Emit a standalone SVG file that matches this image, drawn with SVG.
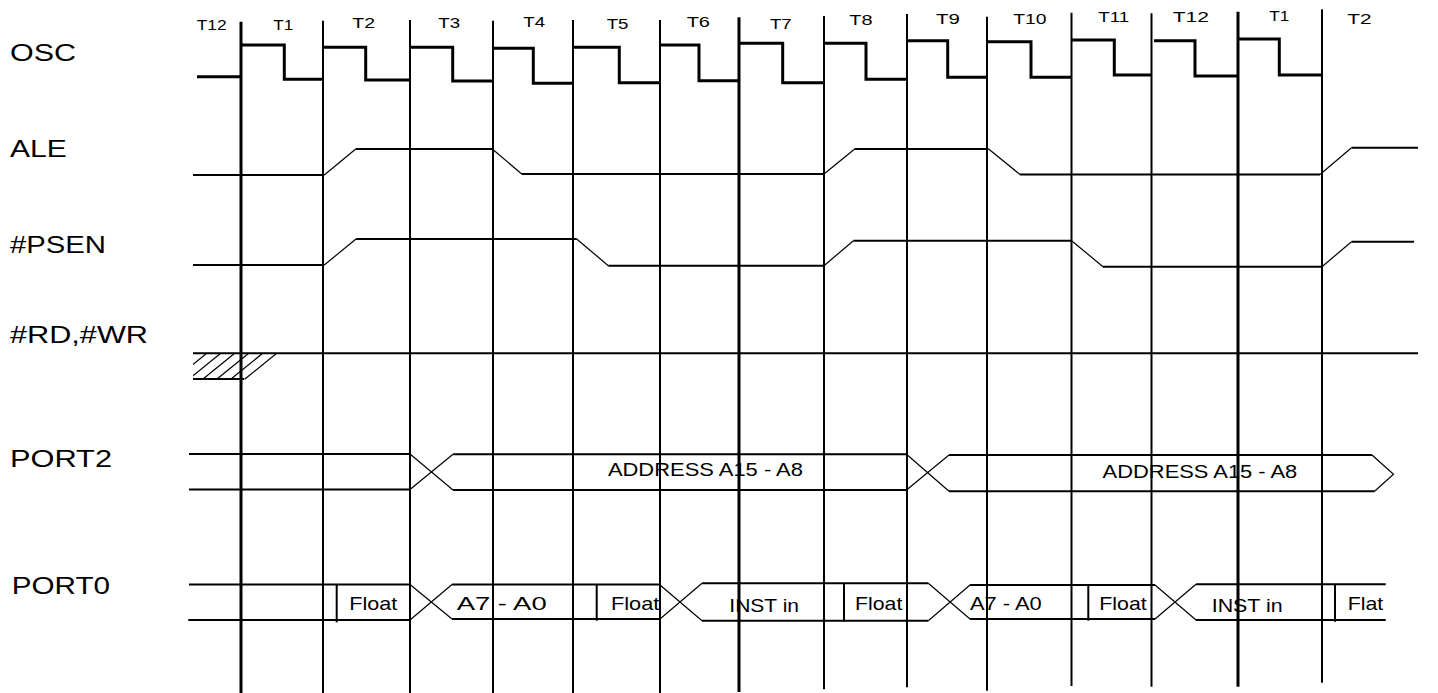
<svg xmlns="http://www.w3.org/2000/svg" width="1438" height="693" viewBox="0 0 1438 693">
<defs>
<style>
.lbl{font-family:"Liberation Sans",Arial,sans-serif;font-size:24.5px;fill:#000}
.tl{font-family:"Liberation Sans",Arial,sans-serif;font-size:15px;fill:#000}
.in{font-family:"Liberation Sans",Arial,sans-serif;font-size:19px;fill:#000}
.g{stroke:#000;stroke-width:2;fill:none}
.gt{stroke:#000;stroke-width:3;fill:none}
.osc{stroke:#000;stroke-width:3;fill:none}
.sig{stroke:#000;stroke-width:2;fill:none}
.thin{stroke:#000;stroke-width:1.2;fill:none}
</style>
<clipPath id="hc"><rect x="193" y="352" width="100" height="28"/></clipPath>
</defs>
<rect width="1438" height="693" fill="#fff"/>

<g id="labels">
<text class="lbl" x="10" y="60.7" textLength="66" lengthAdjust="spacingAndGlyphs">OSC</text>
<text class="lbl" x="10" y="156.7" textLength="56.7" lengthAdjust="spacingAndGlyphs">ALE</text>
<text class="lbl" x="10" y="253.3" textLength="96" lengthAdjust="spacingAndGlyphs">#PSEN</text>
<text class="lbl" x="10" y="343.3" textLength="138" lengthAdjust="spacingAndGlyphs">#RD,#WR</text>
<text class="lbl" x="10" y="466.7" textLength="102" lengthAdjust="spacingAndGlyphs">PORT2</text>
<text class="lbl" x="11.7" y="594" textLength="98.3" lengthAdjust="spacingAndGlyphs">PORT0</text>
</g>

<g id="states">
<text class="tl" x="196.7" y="30" textLength="30" lengthAdjust="spacingAndGlyphs">T12</text>
<text class="tl" x="273.3" y="29.5" textLength="20" lengthAdjust="spacingAndGlyphs">T1</text>
<text class="tl" x="352.3" y="28.3" textLength="22.7" lengthAdjust="spacingAndGlyphs">T2</text>
<text class="tl" x="438.3" y="28.3" textLength="21.7" lengthAdjust="spacingAndGlyphs">T3</text>
<text class="tl" x="523.3" y="27.3" textLength="21.7" lengthAdjust="spacingAndGlyphs">T4</text>
<text class="tl" x="606.7" y="29" textLength="21.7" lengthAdjust="spacingAndGlyphs">T5</text>
<text class="tl" x="686.7" y="26.7" textLength="23.3" lengthAdjust="spacingAndGlyphs">T6</text>
<text class="tl" x="770" y="29" textLength="21.7" lengthAdjust="spacingAndGlyphs">T7</text>
<text class="tl" x="849.3" y="25" textLength="23.3" lengthAdjust="spacingAndGlyphs">T8</text>
<text class="tl" x="936" y="24" textLength="24" lengthAdjust="spacingAndGlyphs">T9</text>
<text class="tl" x="1013.3" y="24" textLength="33.3" lengthAdjust="spacingAndGlyphs">T10</text>
<text class="tl" x="1098.3" y="21.7" textLength="31" lengthAdjust="spacingAndGlyphs">T11</text>
<text class="tl" x="1172.7" y="22.3" textLength="36.3" lengthAdjust="spacingAndGlyphs">T12</text>
<text class="tl" x="1269.3" y="20.7" textLength="20" lengthAdjust="spacingAndGlyphs">T1</text>
<text class="tl" x="1347.3" y="24" textLength="24.3" lengthAdjust="spacingAndGlyphs">T2</text>
</g>

<g id="grid">
<line class="gt" x1="241" y1="21.7" x2="241" y2="693"/>
<line class="g" x1="323" y1="20.7" x2="323" y2="693"/>
<line class="g" x1="410" y1="20" x2="410" y2="693"/>
<line class="g" x1="493" y1="20.7" x2="493" y2="693"/>
<line class="g" x1="573" y1="20" x2="573" y2="693"/>
<line class="g" x1="660" y1="20" x2="660" y2="693"/>
<line class="gt" x1="739" y1="17.3" x2="739" y2="692"/>
<line class="g" x1="824" y1="16" x2="824" y2="689.3"/>
<line class="g" x1="907" y1="14" x2="907" y2="687.3"/>
<line class="g" x1="987" y1="16.7" x2="987" y2="690.7" stroke-width="2.5"/>
<line class="g" x1="1071.5" y1="12.7" x2="1071.5" y2="686"/>
<line class="g" x1="1151.5" y1="13.3" x2="1151.5" y2="686.7"/>
<line class="gt" x1="1238" y1="11.7" x2="1238" y2="686.7"/>
<line class="g" x1="1322" y1="9.3" x2="1322" y2="682.7"/>
</g>

<g id="osc">
<path class="osc" d="M197,76.7 H241 M241,45 H284.3 V79.3 H323.3 M323.3,47.3 H365.7 V80 H410 M410,47.3 H452.7 V81 H492.7 M492.7,48.3 H533.3 V83.3 H573.3 M573.3,47.3 H619.3 V82.7 H660 M660,45 H699 V80.7 H739.3 M739.3,43.3 H782.7 V82.7 H824 M824,43.3 H866 V79.3 H906.7 M906.7,40.7 H947.7 V77.3 H987.3 M987.3,41.7 H1031 V77.3 H1071.7 M1071.7,40 H1114.3 V75 H1151.7 M1154,40.7 H1195 V76 H1238.3 M1238.3,39 H1279.3 V75 H1321.7"/>
</g>

<g id="ale">
<path class="sig" d="M193,175 H324.3"/>
<path class="thin" d="M324.3,175 L355.7,149"/>
<path class="sig" d="M355.7,149 H492.3"/>
<path class="thin" d="M492.3,149 L521.7,174"/>
<path class="sig" d="M521.7,174 H824"/>
<path class="thin" d="M824,174 L854.7,149"/>
<path class="sig" d="M854.7,149 H988.6"/>
<path class="thin" d="M988.6,149 L1020,174.5"/>
<path class="sig" d="M1020,174.5 H1320"/>
<path class="thin" d="M1320,174.5 L1351.5,147.7"/>
<path class="sig" d="M1351.5,147.7 H1418"/>
</g>

<g id="psen">
<path class="sig" d="M193,265 H324.3"/>
<path class="thin" d="M324.3,265 L356,239"/>
<path class="sig" d="M356,239 H576.7"/>
<path class="thin" d="M576.7,239 L608.3,265.7"/>
<path class="sig" d="M608.3,265.7 H824"/>
<path class="thin" d="M824,265.7 L853.4,240.7"/>
<path class="sig" d="M853.4,240.7 H1071.6"/>
<path class="thin" d="M1071.6,240.7 L1103,266.7"/>
<path class="sig" d="M1103,266.7 H1322"/>
<path class="thin" d="M1322,266.7 L1351.5,241.7"/>
<path class="sig" d="M1351.5,241.7 H1414"/>
</g>

<g id="rdwr">
<path class="sig" d="M193,353.3 H1418"/>
<path class="sig" d="M193,379 H244.3"/>
<path class="thin" d="M245,379 L276.7,353.3"/>
<g clip-path="url(#hc)">
<path class="thin" d="M231,379 L262.7,353.3 M217,379 L248.7,353.3 M203,379 L234.7,353.3 M189,379 L220.7,353.3 M175,379 L206.7,353.3"/>
</g>
</g>

<g id="port2">
<path class="sig" d="M189,454 H410 M189,489.5 H410"/>
<path class="thin" d="M410,454 L453,490 M410,489.5 L453,454.3"/>
<path class="sig" d="M453,454.3 H906.5 M453,490 H906.5"/>
<path class="thin" d="M906.5,454.3 L949,491.3 M906.5,490 L949,455"/>
<path class="sig" d="M949,455 H1372 M949,491.3 H1374.6"/>
<path class="thin" d="M1372,455 L1393.5,474.3 L1374.6,491.3"/>
<text class="in" x="607.9" y="475.7" textLength="195" lengthAdjust="spacingAndGlyphs">ADDRESS A15 - A8</text>
<text class="in" x="1102.6" y="478.3" textLength="194.7" lengthAdjust="spacingAndGlyphs">ADDRESS A15 - A8</text>
</g>

<g id="port0">
<path class="sig" d="M189,584.5 H410 M188.3,620 H410"/>
<path class="sig" d="M336.7,585 V622.3"/>
<path class="thin" d="M410,584.5 L452,619 M410,620 L452,584.5"/>
<path class="sig" d="M452,584.5 H660 M452,619 H660"/>
<path class="sig" d="M596.7,585 V620.7"/>
<path class="thin" d="M660,585 L702,620.7 M660,619 L702,583.3"/>
<path class="sig" d="M702,583.3 H928.3 M702,620.7 H928.3"/>
<path class="sig" d="M844,583.3 V621.7"/>
<path class="thin" d="M928.3,583.3 L970,619 M928.3,620.7 L970,585"/>
<path class="sig" d="M970,585 H1155 M970,619 H1155"/>
<path class="sig" d="M1088.3,585 V620.7"/>
<path class="thin" d="M1155,585 L1196,620 M1155,619 L1196,584.3"/>
<path class="sig" d="M1196,584.3 H1385.7 M1196,620 H1385.7"/>
<path class="sig" d="M1335,585 V621.7"/>
<text class="in" x="349.3" y="610" textLength="48" lengthAdjust="spacingAndGlyphs">Float</text>
<text class="in" x="456.7" y="610" textLength="90" lengthAdjust="spacingAndGlyphs">A7 - A0</text>
<text class="in" x="611" y="610" textLength="48.3" lengthAdjust="spacingAndGlyphs">Float</text>
<text class="in" x="729.3" y="612.3" textLength="69.7" lengthAdjust="spacingAndGlyphs">INST in</text>
<text class="in" x="855" y="610" textLength="47.3" lengthAdjust="spacingAndGlyphs">Float</text>
<text class="in" x="970" y="610" textLength="71.7" lengthAdjust="spacingAndGlyphs">A7 - A0</text>
<text class="in" x="1099.3" y="610" textLength="47.4" lengthAdjust="spacingAndGlyphs">Float</text>
<text class="in" x="1211.7" y="611.7" textLength="71" lengthAdjust="spacingAndGlyphs">INST in</text>
<text class="in" x="1347.7" y="610" textLength="35.6" lengthAdjust="spacingAndGlyphs">Flat</text>
</g>
</svg>
